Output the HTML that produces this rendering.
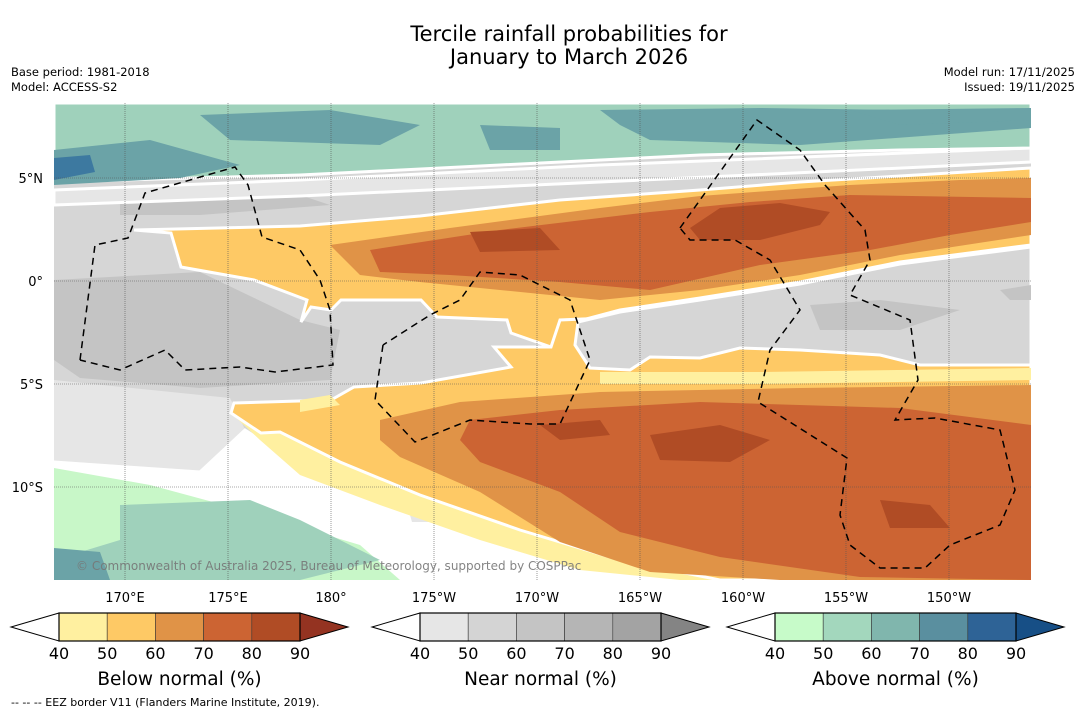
<!DOCTYPE html>
<html><head><meta charset="utf-8"><style>
body{margin:0;background:#fff;width:1085px;height:713px;overflow:hidden;font-family:"Liberation Sans","DejaVu Sans",sans-serif}
svg text{font-family:"DejaVu Sans","Liberation Sans",sans-serif}
</style></head><body>
<svg id="s" width="1085" height="713" viewBox="0 0 1085 713">
<text x="569" y="41" font-size="21" text-anchor="middle">Tercile rainfall probabilities for</text>
<text x="569" y="64" font-size="21" text-anchor="middle">January to March 2026</text>
<text x="11" y="76" font-size="11.5">Base period: 1981-2018</text>
<text x="11" y="91" font-size="11.5">Model: ACCESS-S2</text>
<text x="1075" y="76" font-size="11.5" text-anchor="end">Model run: 17/11/2025</text>
<text x="1075" y="91" font-size="11.5" text-anchor="end">Issued: 19/11/2025</text>
<defs><clipPath id="mc"><rect x="54" y="103" width="977" height="477"/></clipPath></defs>
<g clip-path="url(#mc)">
<rect x="54" y="103" width="977" height="477" fill="#d6d6d6"/>
<polygon fill="#c4c4c4" points="54,280 200,272 300,320 340,330 330,380 200,388 80,378 54,360"/>
<polygon fill="#c4c4c4" points="120,200 300,195 330,205 200,215 120,215"/>
<polygon fill="#e6e6e6" points="54,380 230,398 250,440 300,480 330,500 250,505 150,475 54,465"/>
<polygon fill="#e6e6e6" stroke="#fff" stroke-width="3" points="54,190 300,180 600,165 1031,148 1031,162 600,182 300,196 54,205"/>
<polygon fill="#9fd1bb" stroke="#fff" stroke-width="3" points="54,103 1031,103 1031,148 900,150 700,155 500,165 300,175 54,182"/>
<polygon fill="#6ba3a7" points="54,150 150,140 240,165 180,178 54,185"/>
<polygon fill="#6ba3a7" points="200,115 330,110 420,125 380,145 230,140"/>
<polygon fill="#6ba3a7" points="600,110 760,108 1031,112 1031,128 800,145 650,140 620,125"/>
<polygon fill="#6ba3a7" points="480,125 560,128 560,150 490,150"/>
<polygon fill="#6ba3a7" points="850,110 1031,108 1031,120 900,125"/>
<polygon fill="#3d79a0" points="54,158 90,155 95,172 54,180"/>
<!-- bottom left -->
<polygon fill="#ffffff" stroke="#fff" stroke-width="3" points="54,462 200,472 245,430 300,465 400,510 520,550 700,580 54,580"/>
<polygon fill="#c8f7c8" points="54,468 150,485 250,512 360,545 400,580 54,580"/>
<polygon fill="#9fd1bb" points="120,505 250,500 300,520 380,560 300,580 54,580 54,560 120,540"/>
<polygon fill="#6ba3a7" points="54,548 100,552 110,580 54,580"/>
<polygon fill="#e6e6e6" points="410,515 440,512 445,522 412,522"/>
<!-- upper orange band -->
<polygon fill="#fec965" stroke="#fff" stroke-width="3" points="134,230 171,233 181,267 254,280 307,300 301,322 311,307 331,310 341,300 421,300 437,317 507,320 511,333 551,347 575,322 620,310 700,298 800,282 900,262 1031,245 1031,168 900,176 800,182 700,190 560,200 420,216 300,226"/>
<polygon fill="#e09347" points="330,245 450,228 600,208 700,196 850,185 960,180 1031,178 1031,235 900,255 800,275 700,290 600,300 500,290 420,282 360,275"/>
<polygon fill="#cc6433" points="370,250 500,230 650,212 750,202 850,195 1031,198 1031,222 950,235 870,250 760,265 650,290 560,282 450,275 380,272"/>
<polygon fill="#b04c25" points="690,228 720,208 780,203 830,212 820,225 760,240 700,240"/>
<polygon fill="#b04c25" points="470,232 540,228 560,250 480,252"/>
<!-- lower orange -->
<polygon fill="#fff0a0" points="234,403 331,400 354,387 421,383 511,367 494,347 551,347 560,320 1031,300 1031,580 680,580 580,570 480,540 380,505 300,475 260,440 231,413"/>
<polygon fill="#fec965" stroke="#fff" stroke-width="3" points="234,403 331,400 354,387 421,383 511,367 494,347 551,347 560,320 1031,300 1031,580 720,580 620,560 520,530 420,495 340,462 280,432 261,433 231,413"/>
<polygon fill="#fff0a0" points="600,372 760,372 1031,368 1031,380 760,384 600,384"/>
<polygon fill="#e09347" points="380,420 460,402 600,392 800,388 1031,385 1031,580 780,580 650,572 560,542 480,492 400,457 380,440"/>
<polygon fill="#cc6433" points="470,420 560,410 700,402 900,408 1031,425 1031,580 860,577 720,557 620,532 560,492 480,462 460,440"/>
<polygon fill="#b04c25" points="650,435 720,425 770,440 730,462 660,460"/>
<polygon fill="#b04c25" points="880,500 930,505 950,528 890,528"/>
<polygon fill="#b04c25" points="540,425 600,420 610,435 560,440"/>
<polygon fill="#fff0a0" points="300,400 330,395 340,405 300,412"/>
<!-- right gray -->
<polygon fill="#d6d6d6" stroke="#fff" stroke-width="3" points="578,322 620,312 700,300 800,284 900,264 1031,247 1031,365 920,365 880,355 800,350 740,348 700,358 650,357 630,370 590,368 575,345"/>
<polygon fill="#c4c4c4" points="810,305 880,300 960,310 900,330 820,330"/>
<polygon fill="#c4c4c4" points="1000,290 1031,285 1031,300 1010,300"/>
</g>
<g id="grid"></g>
<g fill="none" stroke="#000" stroke-width="1.5" stroke-dasharray="7,5">
<polyline points="80,360 95,245 128,238 145,193 235,167 248,185 262,237 300,250 320,280 330,310 333,365 275,372 240,367 185,370 165,350 120,370 80,360"/>
<polyline points="383,345 375,400 415,442 470,420 530,424 560,424 590,360 570,300 520,275 480,272 460,300 430,315 383,345"/>
<polyline points="680,228 700,200 757,120 800,150 825,185 865,230 870,260 850,295 910,320 918,380 895,420 935,418 1000,430 1015,490 1000,525 950,545 925,568 880,568 850,545 840,515 847,458 758,402 770,350 800,310 770,260 735,240 690,240 680,228"/>
</g>
<text x="76" y="570" font-size="12" fill="#777" opacity="0.9">© Commonwealth of Australia 2025, Bureau of Meteorology, supported by COSPPac</text>
<g id="bars"></g>
<text x="11" y="706" font-size="11">--  --  -- EEZ border V11 (Flanders Marine Institute, 2019).</text>
</svg>
<script>
const lonTicks=[170,175,180,-175,-170,-165,-160,-155,-150];
const latTicks=[5,0,-5,-10];
const cbLevels=[40,50,60,70,80,90];
const cbTitles=["Below normal (%)","Near normal (%)","Above normal (%)"];
const cbColors=[["#fff0a0","#fec965","#e09347","#cc6433","#b04c25","#943321"],["#e6e6e6","#d4d4d4","#c4c4c4","#b5b5b5","#a3a3a3","#848484"],["#c7fbc9","#a3d7bd","#80b6ad","#5a8f9f","#2e6396","#174f86"]];
const NS="http://www.w3.org/2000/svg";
function lonX(l){let e=l<0?l+360:l;return 125+(e-170)*20.6;}
function latY(v){return 281-v*20.6;}
function mk(t,a,p){const e=document.createElementNS(NS,t);for(const k in a)e.setAttribute(k,a[k]);p.appendChild(e);return e;}
const g=document.getElementById('grid');
lonTicks.forEach(l=>{const x=lonX(l);
 const ln=mk('line',{x1:x,x2:x,y1:103,y2:580,stroke:'#555','stroke-width':0.6,'stroke-dasharray':'1,1'},g);
 
 
 const t=mk('text',{x:x,y:602,'font-size':13,'text-anchor':'middle'},g);
 t.textContent=l===180?'180°':(Math.abs(l)+'°'+(l>0?'E':'W'));
 
 });
latTicks.forEach(v=>{const y=latY(v);
 const ln=mk('line',{x1:54,x2:1031,y1:y,y2:y,stroke:'#555','stroke-width':0.6,'stroke-dasharray':'1,1'},g);
 
 
 const t=mk('text',{x:43,y:y+5,'font-size':13,'text-anchor':'end'},g);
 t.textContent=v===0?'0°':(Math.abs(v)+'°'+(v>0?'N':'S'));
 
 });
const b=document.getElementById('bars');
const starts=[59,420,775];const bw=48.2,y0=613,h=28;
starts.forEach((x0,i)=>{
 const grp=mk('g',{},b);
 
 
 const xe=x0+bw*(cbLevels.length-1);
 mk('polygon',{points:`${x0},${y0} ${x0-48},${y0+h/2} ${x0},${y0+h}`,fill:'#fff',stroke:'#000','stroke-width':1},grp);
 for(let k=0;k<cbLevels.length-1;k++){
  const r=mk('rect',{x:x0+k*bw,y:y0,width:bw,height:h,fill:cbColors[i][k],stroke:'#333','stroke-width':0.6},grp);
  
  }
 mk('polygon',{points:`${xe},${y0} ${xe+48},${y0+h/2} ${xe},${y0+h}`,fill:cbColors[i][5],stroke:'#000','stroke-width':1},grp);
 mk('rect',{x:x0,y:y0,width:xe-x0,height:h,fill:'none',stroke:'#000','stroke-width':1.2},grp);
 cbLevels.forEach((v,k)=>{const t=mk('text',{x:x0+k*bw,y:659,'font-size':16,'text-anchor':'middle'},grp);t.textContent=v;
  
  });
 const tt=mk('text',{x:(x0+xe)/2,y:685,'font-size':18.5,'text-anchor':'middle'},grp);tt.textContent=cbTitles[i];
 
 
});
</script>
</body></html>
